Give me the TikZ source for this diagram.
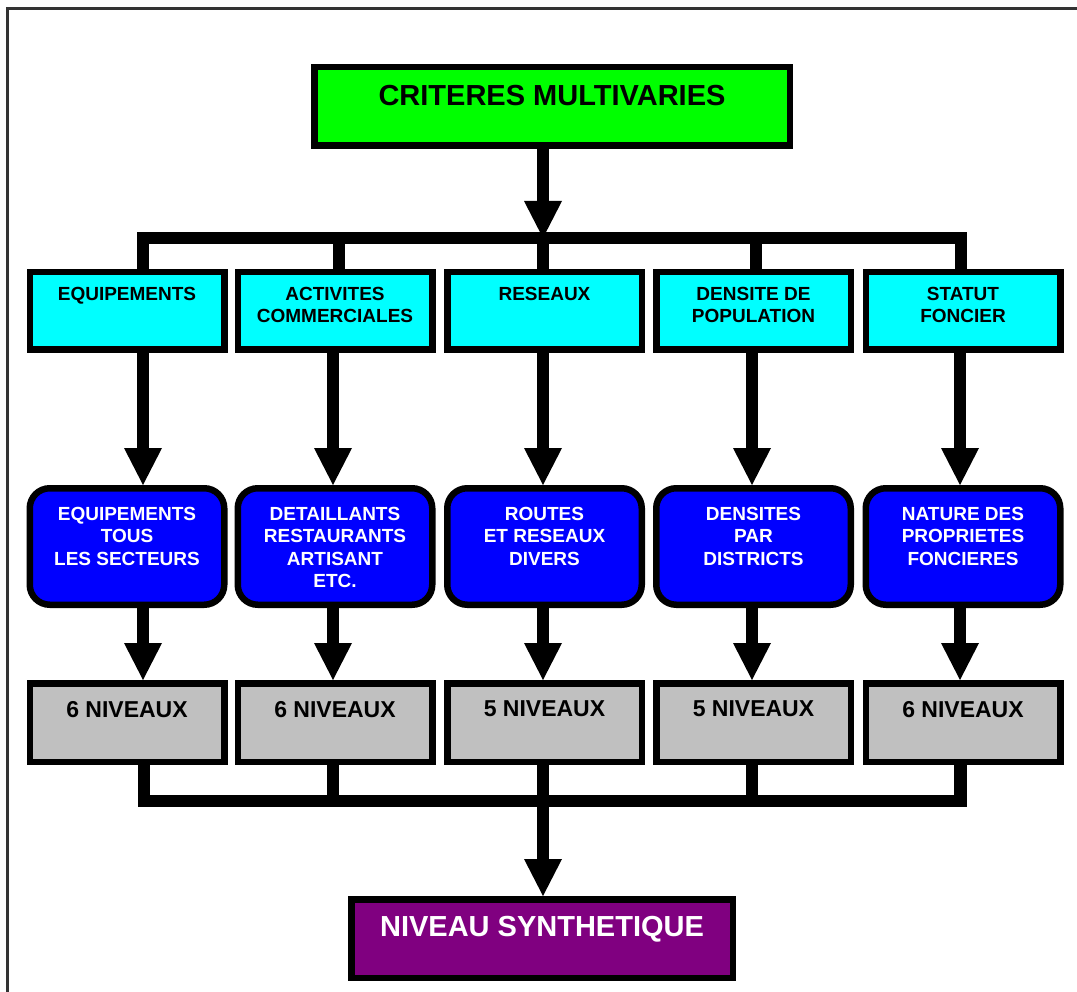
\documentclass[tikz,border=0pt]{standalone}
\usepackage{fontspec}
\setmainfont{Liberation Sans}
\usetikzlibrary{arrows.meta}
\definecolor{cgreen}{HTML}{00FF00}
\definecolor{ccyan}{HTML}{00FFFF}
\definecolor{cblue}{HTML}{0000FF}
\definecolor{cgray}{HTML}{C0C0C0}
\definecolor{cpurple}{HTML}{800080}
\definecolor{cframe}{HTML}{333333}
\begin{document}
\begin{tikzpicture}[x=1pt,y=-1pt,
  box/.style={draw=black, line width=6.5pt, inner sep=0pt, outer sep=3.25pt, minimum width=194.5pt},
  topbox/.style={box, fill=cgreen, minimum width=475.5pt, minimum height=78.5pt},
  critbox/.style={box, fill=ccyan, minimum height=77.5pt},
  detbox/.style={box, fill=cblue, rounded corners=20pt, minimum height=116.5pt},
  nivbox/.style={box, fill=cgray, minimum height=78.5pt},
  synbox/.style={box, fill=cpurple, minimum width=381.5pt, minimum height=78.5pt},
  txt/.style={inner sep=0pt, outer sep=0pt, anchor=north, align=center},
  bigtxt/.style={txt, font=\fontsize{29}{34}\selectfont\bfseries},
  smalltxt/.style={txt, font=\fontsize{19}{22.5}\selectfont\bfseries},
  nivtxt/.style={txt, font=\fontsize{23}{27}\selectfont\bfseries},
  bus/.style={draw=black, line width=12.5pt, line join=miter, line cap=butt},
  arr/.style={draw=black, line width=12pt, line cap=butt, -{Triangle[width=38pt,length=37pt,line width=0pt]}},
  frameline/.style={draw=cframe, line width=2.2pt}
]
\useasboundingbox (0,0) rectangle (1077,992);
\fill[white] (0,0) rectangle (1077,992);
\draw[frameline] (1077,8.5) -- (7.5,8.5) -- (7.5,992);

% top box
\node[topbox] (top) at (552,106.5) {};
\node[bigtxt, text=black] (topt) at (552,85) {CRITERES MULTIVARIES};

% criteria boxes
\node[critbox] (c1) at (127,311) {};
\node[critbox] (c2) at (335,311) {};
\node[critbox] (c3) at (544.5,311) {};
\node[critbox] (c4) at (753.5,311) {};
\node[critbox] (c5) at (963,311) {};
\node[smalltxt] (c1t) at (127,287) {EQUIPEMENTS};
\node[smalltxt] (c2t) at (335,287) {ACTIVITES\\COMMERCIALES};
\node[smalltxt] (c3t) at (544.5,287) {RESEAUX};
\node[smalltxt] (c4t) at (753.5,287) {DENSITE DE\\POPULATION};
\node[smalltxt] (c5t) at (963,287) {STATUT\\FONCIER};

% detail boxes
\node[detbox] (b1) at (127,546.5) {};
\node[detbox] (b2) at (335,546.5) {};
\node[detbox] (b3) at (544.5,546.5) {};
\node[detbox] (b4) at (753.5,546.5) {};
\node[detbox] (b5) at (963,546.5) {};
\node[smalltxt, text=white] (b1t) at (127,507) {EQUIPEMENTS\\TOUS\\LES SECTEURS};
\node[smalltxt, text=white] (b2t) at (335,507) {DETAILLANTS\\RESTAURANTS\\ARTISANT\\ETC.};
\node[smalltxt, text=white] (b3t) at (544.5,507) {ROUTES\\ET RESEAUX\\DIVERS};
\node[smalltxt, text=white] (b4t) at (753.5,507) {DENSITES\\PAR\\DISTRICTS};
\node[smalltxt, text=white] (b5t) at (963,507) {NATURE DES\\PROPRIETES\\FONCIERES};

% level boxes
\node[nivbox] (n1) at (127,722.5) {};
\node[nivbox] (n2) at (335,722.5) {};
\node[nivbox] (n3) at (544.5,722.5) {};
\node[nivbox] (n4) at (753.5,722.5) {};
\node[nivbox] (n5) at (963,722.5) {};
\node[nivtxt] (n1t) at (127,701) {6 NIVEAUX};
\node[nivtxt] (n2t) at (335,701) {6 NIVEAUX};
\node[nivtxt] (n3t) at (544.5,701) {5 NIVEAUX};
\node[nivtxt] (n4t) at (753.5,701) {5 NIVEAUX};
\node[nivtxt] (n5t) at (963,701) {6 NIVEAUX};

% synthesis box
\node[synbox] (syn) at (542,938.5) {};
\node[bigtxt, text=white] (synt) at (542,916) {NIVEAU SYNTHETIQUE};

% top bus
\coordinate (tbus) at (543,238);
\draw[arr] (top.south -| tbus) -- (tbus);
\coordinate (d1) at ([xshift=16pt]c1.north);
\coordinate (d2) at ([xshift=4pt]c2.north);
\coordinate (d3) at ([xshift=-1.5pt]c3.north);
\coordinate (d4) at ([xshift=2.5pt]c4.north);
\coordinate (d5) at ([xshift=-2pt]c5.north);
\draw[bus] (d1) |- (tbus) -| (d5);
\draw[bus] (d2) -- (d2 |- tbus);
\draw[bus] (d3) -- (d3 |- tbus);
\draw[bus] (d4) -- (d4 |- tbus);

% criteria -> details -> levels
\coordinate (a1) at ([xshift=16pt]c1.south);
\coordinate (a2) at ([xshift=-2pt]c2.south);
\coordinate (a3) at ([xshift=-1.5pt]c3.south);
\coordinate (a4) at ([xshift=-1.5pt]c4.south);
\coordinate (a5) at ([xshift=-3pt]c5.south);
\draw[arr] (a1) -- (a1 |- b1.north);
\draw[arr] (a2) -- (a2 |- b2.north);
\draw[arr] (a3) -- (a3 |- b3.north);
\draw[arr] (a4) -- (a4 |- b4.north);
\draw[arr] (a5) -- (a5 |- b5.north);
\draw[arr] (a1 |- b1.south) -- (a1 |- n1.north);
\draw[arr] (a2 |- b2.south) -- (a2 |- n2.north);
\draw[arr] (a3 |- b3.south) -- (a3 |- n3.north);
\draw[arr] (a4 |- b4.south) -- (a4 |- n4.north);
\draw[arr] (a5 |- b5.south) -- (a5 |- n5.north);

% bottom bus
\coordinate (bbus) at (543,801);
\coordinate (e1) at ([xshift=17pt]n1.south);
\coordinate (e2) at ([xshift=-2pt]n2.south);
\coordinate (e3) at ([xshift=-1.5pt]n3.south);
\coordinate (e4) at ([xshift=-1.5pt]n4.south);
\coordinate (e5) at ([xshift=-2.5pt]n5.south);
\draw[bus] (e1) |- (bbus) -| (e5);
\draw[bus] (e2) -- (e2 |- bbus);
\draw[bus] (e3) -- (e3 |- bbus);
\draw[bus] (e4) -- (e4 |- bbus);
\draw[arr] (bbus) -- (bbus |- syn.north);
\end{tikzpicture}
\end{document}
